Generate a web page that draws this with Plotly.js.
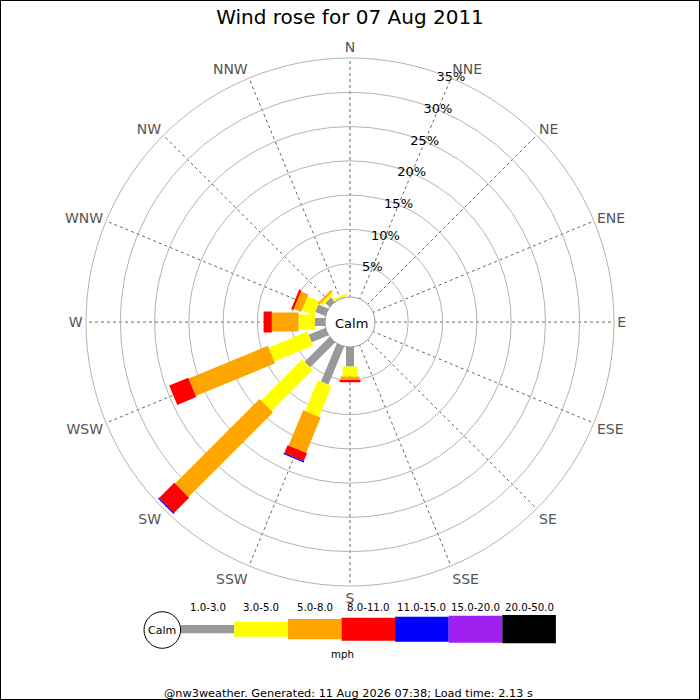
<!DOCTYPE html>
<html>
<head>
<meta charset="utf-8">
<script src="https://cdn.plot.ly/plotly-3.0.1.min.js"></script>
<style>
  html, body { margin: 0; padding: 0; background: #fff; }
  #chart { width: 700px; height: 700px; }
</style>
</head>
<body>
<div id="chart"></div>
<script>
// Wind rose for 07 Aug 2011 — % of observations per direction and speed band

const DIRECTIONS = ["N", "NNE", "NE", "ENE", "E", "ESE", "SE", "SSE",
                    "S", "SSW", "SW", "WSW", "W", "WNW", "NW", "NNW"];
const SPEED_BANDS = ["1.0-3.0", "3.0-5.0", "5.0-8.0", "8.0-11.0",
                     "11.0-15.0", "15.0-20.0", "20.0-50.0"];

// one array per speed band, values follow DIRECTIONS order
const BAND_1_3   = [0, 0, 0, 0, 0, 0, 0, 0, 3.0, 6.15, 5.3, 2.8, 1.6, 1.75, 1.0, 0.2];
const BAND_3_5   = [0, 0, 0, 0, 0, 0, 0, 0, 1.45, 4.85, 8.45, 6.1, 2.4, 1.9, 0.45, 0.35];
const BAND_5_8   = [0, 0, 0, 0, 0, 0, 0, 0, 0.5, 5.6, 17.45, 12.5, 3.9, 1.15, 0.3, 0];
const BAND_8_11  = [0, 0, 0, 0, 0, 0, 0, 0, 0.33, 1.2, 3.1, 3.0, 1.2, 0.35, 0, 0];
const BAND_11_15 = [0, 0, 0, 0, 0, 0, 0, 0, 0, 0.2, 0.2, 0, 0, 0, 0, 0];
const BAND_15_20 = [0, 0, 0, 0, 0, 0, 0, 0, 0, 0, 0, 0, 0, 0, 0, 0];
const BAND_20_50 = [0, 0, 0, 0, 0, 0, 0, 0, 0, 0, 0, 0, 0, 0, 0, 0];

const RING_VALUES = [5, 10, 15, 20, 25, 30, 35];
const RING_LABELS = ["5%", "10%", "15%", "20%", "25%", "30%", "35%"];

const TITLE = "Wind rose for 07 Aug 2011";
const UNIT = "mph";
const FOOTER = "@nw3weather. Generated: 11 Aug 2026 07:38; Load time: 2.13 s";

// ── styles ───────────────────────────────────────────────────────────────────
const BANDS = [BAND_1_3, BAND_3_5, BAND_5_8, BAND_8_11, BAND_11_15, BAND_15_20, BAND_20_50];
const BAND_COLORS = ["#999999", "#ffff00", "#ffa500", "#ff0000", "#0000ff", "#a020f0", "#000000"];
const BAND_WIDTHS = [8, 15, 19, 21, 22, 24, 26];        // bar width in the rose, px
const KEY_HEIGHTS = [8.3, 15, 20.3, 23, 25, 27, 28.3];  // bar height in the key, px

const FONT = "DejaVu Sans, Verdana, sans-serif";
const W = 700, H = 700;
const CX = 350, CY = 322;          // rose centre, px
const R_OUT = 264, R_HOLE = 24;    // outer ring and calm hole, px
const R_MAX = 35;
const K = (R_OUT - R_HOLE) / R_MAX; // px per percent

const px = (x) => x / W;
const py = (y) => 1 - y / H;

// Rectangle of constant pixel width along a direction, expressed in polar data coords
function rectPolygon(dirDeg, r0, r1, widthPx) {
  const hw = widthPx / 2;
  const corners = [[r0, -1], [r1, -1], [r1, 1], [r0, 1], [r0, -1]];
  const r = [], theta = [];
  for (const [v, s] of corners) {
    const d = R_HOLE + v * K;
    r.push((Math.hypot(d, hw) - R_HOLE) / K);
    theta.push(dirDeg + s * Math.atan(hw / d) * 180 / Math.PI);
  }
  return { r, theta };
}

// centred paper-space text
function label(text, x, y, size) {
  return {
    text, xref: "paper", yref: "paper", x: px(x), y: py(y),
    xanchor: "center", yanchor: "middle", showarrow: false,
    font: { family: FONT, size, color: "#000" },
  };
}

// ── traces ───────────────────────────────────────────────────────────────────
const traces = [];
const cumulative = DIRECTIONS.map(() => 0);

BANDS.forEach((band, b) => {
  band.forEach((val, i) => {
    if (val <= 0) return;
    const r0 = cumulative[i];
    const r1 = r0 + val;
    cumulative[i] = r1;
    const poly = rectPolygon(i * 22.5, r0, r1, BAND_WIDTHS[b]);
    traces.push({
      type: "scatterpolar",
      mode: "lines",
      r: poly.r,
      theta: poly.theta,
      fill: "toself",
      fillcolor: BAND_COLORS[b],
      line: { width: 0, color: BAND_COLORS[b] },
      hoverinfo: "skip",
      showlegend: false,
    });
  });
});

// ring labels along the NNE spoke
traces.push({
  type: "scatterpolar",
  mode: "text",
  r: RING_VALUES,
  theta: RING_VALUES.map(() => 22.5),
  text: RING_LABELS,
  textposition: "middle center",
  textfont: { family: FONT, size: 13, color: "#000" },
  hoverinfo: "skip",
  showlegend: false,
});

// ── shapes & annotations (calm circle, key, frame) ──────────────────────────
const shapes = [
  {
    type: "circle", xref: "paper", yref: "paper", layer: "above",
    x0: px(CX - 25), x1: px(CX + 25), y0: py(CY + 25), y1: py(CY - 25),
    fillcolor: "#ffffff", line: { color: "#a0a0a0", width: 1 },
  },
  {
    type: "rect", xref: "paper", yref: "paper", layer: "above",
    x0: 0, x1: 1, y0: 0, y1: 1,
    line: { color: "#000", width: 2 },
  },
];

const annotations = [label("Calm", CX + 1, CY + 1, 13)];

// key
const KEY_X0 = 180.7, KEY_STEP = 53.6, KEY_CY = 629.2;
SPEED_BANDS.forEach((text, b) => {
  const x0 = KEY_X0 + b * KEY_STEP;
  const hh = KEY_HEIGHTS[b] / 2;
  shapes.push({
    type: "rect", xref: "paper", yref: "paper", layer: "above",
    x0: px(x0), x1: px(x0 + KEY_STEP), y0: py(KEY_CY + hh), y1: py(KEY_CY - hh),
    fillcolor: BAND_COLORS[b], line: { width: 0 },
  });
  annotations.push(label(text, x0 + KEY_STEP / 2, 607, 10.2));
});
shapes.push({
  type: "circle", xref: "paper", yref: "paper", layer: "above",
  x0: px(162.3 - 18.3), x1: px(162.3 + 18.3), y0: py(630 + 18.3), y1: py(630 - 18.3),
  fillcolor: "#ffffff", line: { color: "#000", width: 1 },
});
annotations.push(label("Calm", 162.3, 630, 11));
annotations.push(label(UNIT, 342, 654, 10.2));
annotations.push(label(FOOTER, 348, 693, 11.3));

// ── layout ───────────────────────────────────────────────────────────────────
const layout = {
  width: W,
  height: H,
  margin: { t: 0, r: 0, b: 0, l: 0 },
  paper_bgcolor: "#ffffff",
  font: { family: FONT, color: "#000" },
  title: {
    text: TITLE, x: 0.5, xanchor: "center", y: py(17), yanchor: "middle",
    font: { family: FONT, size: 20, color: "#000" },
  },
  showlegend: false,
  polar: {
    domain: { x: [px(CX - R_OUT), px(CX + R_OUT)], y: [py(CY + R_OUT), py(CY - R_OUT)] },
    hole: R_HOLE / R_OUT,
    bgcolor: "#ffffff",
    radialaxis: {
      range: [0, R_MAX],
      tickmode: "array",
      tickvals: RING_VALUES,
      showticklabels: false,
      ticks: "",
      showline: false,
      gridcolor: "#b3b3b3",
      gridwidth: 1,
    },
    angularaxis: {
      rotation: 90,
      direction: "clockwise",
      tickmode: "array",
      tickvals: DIRECTIONS.map((_, i) => i * 22.5),
      ticktext: DIRECTIONS,
      ticks: "",
      tickfont: { family: FONT, size: 14, color: "#555" },
      showgrid: true,
      gridcolor: "#666",
      griddash: "dot",
      gridwidth: 1,
      showline: true,
      linecolor: "#b3b3b3",
      linewidth: 1,
    },
  },
  shapes,
  annotations,
};

Plotly.newPlot("chart", traces, layout, { staticPlot: true, displayModeBar: false });
</script>
</body>
</html>
